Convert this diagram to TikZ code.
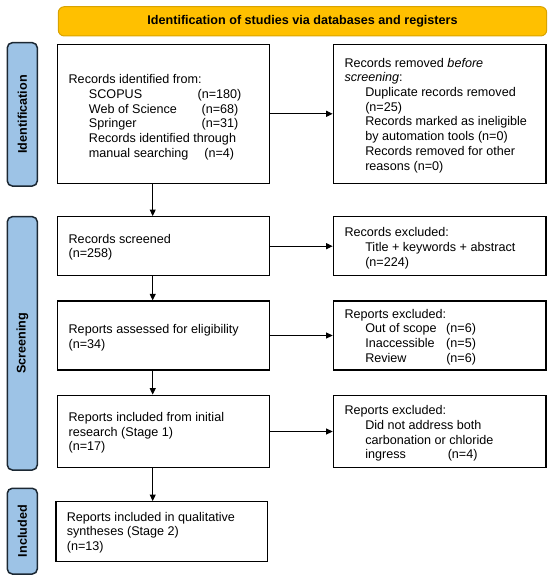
\documentclass[tikz,border=0pt]{standalone}
\usepackage{fontspec}
\setmainfont{Liberation Sans}
\usetikzlibrary{arrows.meta}
\definecolor{bannerfill}{HTML}{FFC000}
\definecolor{bannerdraw}{HTML}{D9A300}
\definecolor{sidefill}{HTML}{9DC3E6}
\definecolor{sidedraw}{HTML}{1C2833}
\tikzset{
  box/.style={draw=black, line width=1.3pt, inner sep=0pt},
  lbox/.style={box, minimum width=211.8pt},
  rbox/.style={box, minimum width=212.7pt},
  txt/.style={anchor=west, align=left, inner sep=0pt, font=\fontsize{12.6}{14.7}\selectfont},
  side/.style={draw=sidedraw, fill=sidefill, line width=1.5pt, rounded corners=5pt, minimum width=30pt, inner sep=0pt},
  sidelabel/.style={rotate=90, font=\fontsize{12.6}{14.7}\selectfont\bfseries},
  arr/.style={line width=0.9pt, -{Triangle[length=6.5pt,width=6pt]}}
}
\begin{document}
\begin{tikzpicture}[x=1pt,y=-1pt]
\useasboundingbox (0,0) rectangle (550,580);
% banner
\node[draw=bannerdraw, fill=bannerfill, line width=1pt, rounded corners=6pt,
      minimum width=488.4pt, minimum height=29.3pt, inner sep=0pt,
      font=\fontsize{12.6}{14.7}\selectfont\bfseries] (banner) at (302.5,21.35)
      {Identification of studies via databases and registers};
% side bars
\node[side, minimum height=143.3pt] (sideI) at (22.3,114.35) {};
\node[sidelabel] (labI) at (sideI.center) {Identification};
\node[side, minimum height=253.3pt] (sideS) at (22.3,343.35) {};
\node[sidelabel] (labS) at (sideS.center) {Screening};
\node[side, minimum height=85.7pt] (sideC) at (22.3,531.15) {};
\node[sidelabel] (labC) at (sideC.center) {Included};
% boxes
\node[lbox, minimum height=139pt] (b1) at (163.6,113.8) {};
\node[rbox, minimum height=139pt] (b2) at (439.65,113.8) {};
\node[lbox, minimum height=59pt] (b3) at (163.6,246.2) {};
\node[rbox, minimum height=59pt] (b4) at (439.65,246.2) {};
\node[lbox, minimum height=69pt] (b5) at (163.6,335.5) {};
\node[rbox, minimum height=69pt] (b6) at (439.65,335.5) {};
\node[lbox, minimum height=72.5pt] (b7) at (163.6,431.5) {};
\node[rbox, minimum height=72.5pt] (b8) at (439.65,431.5) {};
\node[lbox, minimum height=60pt, minimum width=211.5pt] (b9) at (161.85,531.7) {};
% texts
\node[txt] (t1) at ([xshift=11.4pt,yshift=-3.5pt]b1.west) {Records identified from:\\
\hspace*{20.3pt}\makebox[108.7pt][l]{SCOPUS}(n=180)\\
\hspace*{20.3pt}\makebox[112.7pt][l]{Web of Science}(n=68)\\
\hspace*{20.3pt}\makebox[112.7pt][l]{Springer}(n=31)\\
\hspace*{20.3pt}Records identified through\\
\hspace*{20.3pt}\makebox[115.4pt][l]{manual searching}(n=4)};
\node[txt] (t2) at ([xshift=11.7pt,yshift=-1.5pt]b2.west) {Records removed \textit{before}\\
\textit{screening}:\\
\hspace*{20.7pt}Duplicate records removed\\
\hspace*{20.7pt}(n=25)\\
\hspace*{20.7pt}Records marked as ineligible\\
\hspace*{20.7pt}by automation tools (n=0)\\
\hspace*{20.7pt}Records removed for other\\
\hspace*{20.7pt}reasons (n=0)};
\node[txt] (t3) at ([xshift=11.4pt,yshift=-1pt]b3.west) {Records screened\\(n=258)};
\node[txt] (t4) at ([xshift=11.7pt,yshift=-2pt]b4.west) {Records excluded:\\
\hspace*{20.7pt}Title + keywords + abstract\\
\hspace*{20.7pt}(n=224)};
\node[txt] (t5) at ([xshift=11.4pt,yshift=-2pt]b5.west) {Reports assessed for eligibility\\(n=34)};
\node[txt] (t6) at ([xshift=11.7pt,yshift=-1.5pt]b6.west) {Reports excluded:\\
\hspace*{20.7pt}\makebox[81pt][l]{Out of scope}(n=6)\\
\hspace*{20.7pt}\makebox[81pt][l]{Inaccessible}(n=5)\\
\hspace*{20.7pt}\makebox[81pt][l]{Review}(n=6)};
\node[txt] (t7) at ([xshift=11.4pt,yshift=-1.5pt]b7.west) {Reports included from initial\\research (Stage 1)\\(n=17)};
\node[txt] (t8) at ([xshift=11.7pt,yshift=-2pt]b8.west) {Reports excluded:\\
\hspace*{20.7pt}Did not address both\\
\hspace*{20.7pt}carbonation or chloride\\
\hspace*{20.7pt}\makebox[82.5pt][l]{ingress}(n=4)};
\node[txt] (t9) at ([xshift=11.2pt,yshift=-0.8pt]b9.west) {Reports included in qualitative\\syntheses (Stage 2)\\(n=13)};
% arrows
\draw[arr] (b1.east) -- (b2.west);
\draw[arr] (b3.east) -- (b4.west);
\draw[arr] (b5.east) -- (b6.west);
\draw[arr] (b7.east) -- (b8.west);
\draw[arr] ([xshift=-10.9pt]b1.south) -- ([xshift=-10.9pt]b3.north);
\draw[arr] ([xshift=-10.9pt]b3.south) -- ([xshift=-10.9pt]b5.north);
\draw[arr] ([xshift=-10.9pt]b5.south) -- ([xshift=-10.9pt]b7.north);
\draw[arr] ([xshift=-10.9pt]b7.south) -- ([xshift=-10.9pt]b7.south |- b9.north);
\end{tikzpicture}
\end{document}
